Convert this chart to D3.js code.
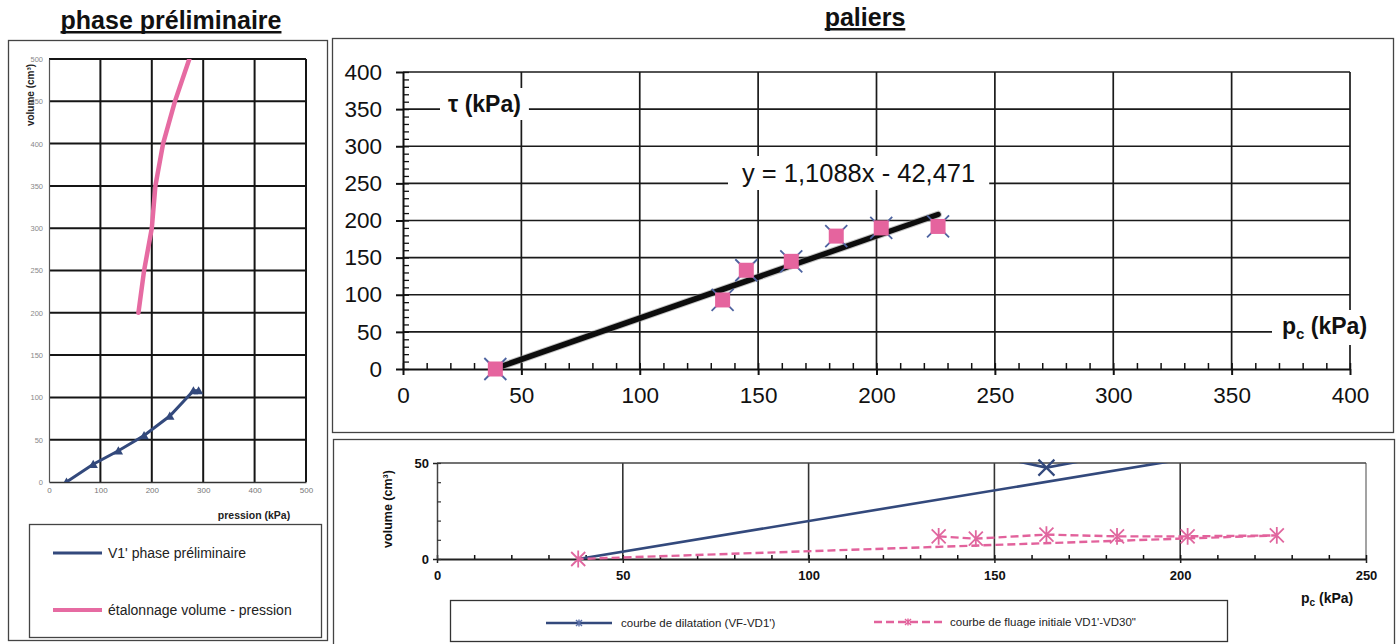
<!DOCTYPE html>
<html>
<head>
<meta charset="utf-8">
<script src="https://d3js.org/d3.v7.min.js"></script>
<style>
  body { margin: 0; background: #fff; }
  svg { display: block; font-family: "Liberation Sans", Arial, sans-serif; }
</style>
</head>
<body>
<script>
var W = 1398, H = 644;
var FONT = "Liberation Sans, Arial, sans-serif";

// phase préliminaire
var prelimP = [34, 86, 135, 185, 235, 281, 291];
var prelimV = [0, 21, 37, 55, 78, 108, 108];
var etalP = [174, 185, 200, 207, 222, 245, 273];
var etalV = [200, 250, 300, 350, 400, 450, 500];
var prelimXTicks = [0, 100, 200, 300, 400, 500];
var prelimYTicks = [0, 50, 100, 150, 200, 250, 300, 350, 400, 450, 500];

// paliers : tau en fonction de pc
var palierP = [39, 135, 145, 164, 183, 202, 226];
var palierTau = [0, 93, 133, 145, 179, 190, 192];
var trendSlope = 1.1088, trendIntercept = -42.471;
var trendRange = [38.3, 226];
var palierTicks = [0, 50, 100, 150, 200, 250, 300, 350, 400];

// dilatation / fluage (dans l'ordre des lignes de la feuille)
var courbeP = [135, 145, 164, 183, 202, 226, 38];
var dilatV = [57, 55.5, 47.6, 54.5, 58, 60, 0];
var fluageV = [11.8, 10.6, 12.7, 11.8, 11.8, 12.3, 0];
var courbeXTicks = [0, 50, 100, 150, 200, 250];
var courbeYTicks = [0, 50];

var navy = "#33497c";
var pink = "#e2629c";

var svg = d3.select("body").append("svg").attr("width", W).attr("height", H);
var defs = svg.append("defs");

function clip(id, x0, y0, x1, y1) {
  defs.append("clipPath").attr("id", id).append("rect")
    .attr("x", x0).attr("y", y0).attr("width", x1 - x0).attr("height", y1 - y0);
}

function fixFont(g, size, weight, color) {
  g.attr("font-family", FONT);
  g.selectAll("text").attr("font-size", size).attr("font-weight", weight).attr("fill", color);
}

// petit marqueur étoile / croix
function starPath(s, withBar) {
  var p = "M" + -s + "," + -s + "L" + s + "," + s + "M" + -s + "," + s + "L" + s + "," + -s;
  if (withBar) p += "M0," + -s * 1.2 + "L0," + s * 1.2;
  return p;
}

// titres
function title(x, y, txt) {
  var t = svg.append("text").attr("x", x).attr("y", y).attr("text-anchor", "middle")
    .attr("font-size", 25).attr("font-weight", "bold").attr("fill", "#111").text(txt);
  var w = t.node().getComputedTextLength();
  svg.append("rect").attr("x", x - w / 2).attr("y", y + 2).attr("width", w)
    .attr("height", 2.5).attr("fill", "#111");
}
title(171, 29, "phase préliminaire");
title(865, 26, "paliers");

// cadres
function frame(x0, y0, x1, y1) {
  svg.append("rect").attr("x", x0 + 0.5).attr("y", y0 + 0.5)
    .attr("width", x1 - x0).attr("height", y1 - y0)
    .attr("fill", "none").attr("stroke", "#444").attr("stroke-width", 1.3);
}
frame(8, 40, 327, 640);
frame(332, 38, 1393, 432);
frame(333, 439, 1394, 650);

// ---------- phase préliminaire ----------
var lx = d3.scaleLinear().domain([0, 500]).range([49, 306]);
var ly = d3.scaleLinear().domain([0, 500]).range([482, 59]);
var gL = svg.append("g");
clip("clipL", lx(0), ly(500), lx(500), ly(0));

gL.selectAll(".vg").data(prelimXTicks.slice(1)).enter().append("line")
  .attr("x1", d => lx(d)).attr("x2", d => lx(d))
  .attr("y1", ly(0)).attr("y2", ly(500))
  .attr("stroke", "#151515").attr("stroke-width", 2);
gL.selectAll(".hg").data(prelimYTicks.slice(1)).enter().append("line")
  .attr("x1", lx(0)).attr("x2", lx(500))
  .attr("y1", d => ly(d)).attr("y2", d => ly(d))
  .attr("stroke", "#151515").attr("stroke-width", 2);

var axLx = gL.append("g").attr("transform", "translate(0," + ly(0) + ")")
  .call(d3.axisBottom(lx).tickValues(prelimXTicks).tickSize(0).tickPadding(5).tickSizeOuter(0));
axLx.select(".domain").attr("stroke", "#333").attr("stroke-width", 1.5);
fixFont(axLx, 8, "normal", "#777");
var axLy = gL.append("g").attr("transform", "translate(" + lx(0) + ",0)")
  .call(d3.axisLeft(ly).tickValues(prelimYTicks).tickSize(0).tickPadding(6).tickSizeOuter(0));
axLy.select(".domain").attr("stroke", "#555").attr("stroke-width", 1.2);
fixFont(axLy, 7.5, "normal", "#888");

var lineL = d3.line().x(d => lx(d[0])).y(d => ly(d[1]));
var plotL = gL.append("g").attr("clip-path", "url(#clipL)");
plotL.append("path").datum(d3.zip(etalP, etalV)).attr("d", lineL)
  .attr("fill", "none").attr("stroke", "#e66ba2").attr("stroke-width", 4.5)
  .attr("stroke-linecap", "round");
plotL.append("path").datum(d3.zip(prelimP, prelimV)).attr("d", lineL)
  .attr("fill", "none").attr("stroke", navy).attr("stroke-width", 3);
plotL.selectAll(".tri").data(d3.zip(prelimP, prelimV)).enter().append("path")
  .attr("d", d3.symbol(d3.symbolTriangle, 38))
  .attr("transform", d => "translate(" + lx(d[0]) + "," + (ly(d[1]) + 1) + ")")
  .attr("fill", navy);

svg.append("text").attr("transform", "translate(34,95) rotate(-90)")
  .attr("text-anchor", "middle").attr("font-size", 10).attr("font-weight", "bold")
  .attr("fill", "#222").text("volume (cm³)");
svg.append("text").attr("x", 254).attr("y", 519).attr("text-anchor", "middle")
  .attr("font-size", 10.5).attr("font-weight", "bold").attr("fill", "#222").text("pression (kPa)");

// légende gauche
svg.append("rect").attr("x", 29.5).attr("y", 524.5).attr("width", 292).attr("height", 113)
  .attr("fill", "none").attr("stroke", "#444").attr("stroke-width", 1.3);
var legL = [
  { label: "V1' phase préliminaire", color: navy, w: 3, y: 553 },
  { label: "étalonnage volume - pression", color: "#e66ba2", w: 4, y: 610 }
];
legL.forEach(function(d) {
  svg.append("line").attr("x1", 53).attr("x2", 102).attr("y1", d.y).attr("y2", d.y)
    .attr("stroke", d.color).attr("stroke-width", d.w);
  svg.append("text").attr("x", 108).attr("y", d.y + 5).attr("font-size", 14)
    .attr("fill", "#222").text(d.label);
});

// ---------- paliers ----------
var px = d3.scaleLinear().domain([0, 400]).range([403, 1350]);
var py = d3.scaleLinear().domain([0, 400]).range([369, 72]);
var gP = svg.append("g");
clip("clipP", px(0), py(400), px(400), py(0));

gP.selectAll(".vg").data(palierTicks.slice(1)).enter().append("line")
  .attr("x1", d => px(d)).attr("x2", d => px(d))
  .attr("y1", py(0)).attr("y2", py(400))
  .attr("stroke", "#1a1a1a").attr("stroke-width", 1.7);
gP.selectAll(".hg").data(palierTicks.slice(1)).enter().append("line")
  .attr("x1", px(0)).attr("x2", px(400))
  .attr("y1", d => py(d)).attr("y2", d => py(d))
  .attr("stroke", "#1a1a1a").attr("stroke-width", 1.7);

var minorP = d3.range(0, 401, 10);
var axPxMinor = gP.append("g").attr("transform", "translate(0," + py(0) + ")")
  .call(d3.axisBottom(px).tickValues(minorP).tickSize(-6).tickFormat("").tickSizeOuter(0));
axPxMinor.selectAll("line").attr("stroke", "#111").attr("stroke-width", 1.5);
axPxMinor.select(".domain").attr("stroke", "#111").attr("stroke-width", 2);
var axPyMinor = gP.append("g").attr("transform", "translate(" + px(0) + ",0)")
  .call(d3.axisLeft(py).tickValues(minorP).tickSize(-6).tickFormat("").tickSizeOuter(0));
axPyMinor.selectAll("line").attr("stroke", "#111").attr("stroke-width", 1.3);
axPyMinor.select(".domain").attr("stroke", "#111").attr("stroke-width", 2);

var axPx = gP.append("g").attr("transform", "translate(0," + py(0) + ")")
  .call(d3.axisBottom(px).tickValues(palierTicks).tickSize(6).tickPadding(12).tickSizeOuter(0));
axPx.select(".domain").remove();
axPx.selectAll("line").attr("stroke", "#111").attr("stroke-width", 2);
fixFont(axPx, 22.5, "normal", "#111");
var axPy = gP.append("g").attr("transform", "translate(" + px(0) + ",0)")
  .call(d3.axisLeft(py).tickValues(palierTicks).tickSize(7).tickPadding(14).tickSizeOuter(0));
axPy.select(".domain").remove();
axPy.selectAll("line").attr("stroke", "#111").attr("stroke-width", 2);
fixFont(axPy, 22.5, "normal", "#111");

// étiquettes avec fond blanc
function boxedText(x, y, size, weight, build, padX, padY) {
  var t = gP.append("text").attr("x", x).attr("y", y).attr("font-size", size)
    .attr("font-weight", weight).attr("fill", "#111");
  build(t);
  var b = t.node().getBBox();
  gP.insert("rect", function() { return t.node(); })
    .attr("x", b.x - padX).attr("y", b.y - padY)
    .attr("width", b.width + 2 * padX).attr("height", b.height + 2 * padY)
    .attr("fill", "#fff");
}
boxedText(448, 112, 23, "bold", function(t) { t.text("τ (kPa)"); }, 8, 3);
boxedText(742, 182, 25.5, "normal", function(t) {
  t.text("y = " + String(trendSlope).replace(".", ",") + "x - " +
    String(-trendIntercept).replace(".", ","));
}, 14, 3);
boxedText(1282, 334, 23, "bold", function(t) {
  t.append("tspan").text("p");
  t.append("tspan").attr("font-size", 15).attr("dy", 5).text("c");
  t.append("tspan").attr("dy", -5).text(" (kPa)");
}, 10, 3);

var plotP = gP.append("g").attr("clip-path", "url(#clipP)");
plotP.append("line")
  .attr("x1", px(trendRange[0])).attr("y1", py(trendSlope * trendRange[0] + trendIntercept))
  .attr("x2", px(trendRange[1])).attr("y2", py(trendSlope * trendRange[1] + trendIntercept))
  .attr("stroke", "#888").attr("stroke-width", 7.5).attr("stroke-linecap", "round").attr("opacity", 0.5);

var ptsP = d3.zip(palierP, palierTau);
gP.selectAll(".xm").data(ptsP).enter().append("path")
  .attr("d", starPath(11, false))
  .attr("transform", d => "translate(" + px(d[0]) + "," + py(d[1]) + ")")
  .attr("stroke", "#4d63a0").attr("stroke-width", 1.8).attr("fill", "none");
gP.selectAll(".sq").data(ptsP).enter().append("rect")
  .attr("x", d => px(d[0]) - 7.5).attr("y", d => py(d[1]) - 7.5)
  .attr("width", 15).attr("height", 15).attr("fill", "#e5649e");

plotP.append("line")
  .attr("x1", px(trendRange[0])).attr("y1", py(trendSlope * trendRange[0] + trendIntercept))
  .attr("x2", px(trendRange[1])).attr("y2", py(trendSlope * trendRange[1] + trendIntercept))
  .attr("stroke", "#0d0d0d").attr("stroke-width", 5.5).attr("stroke-linecap", "round");

// ---------- dilatation / fluage ----------
var bx = d3.scaleLinear().domain([0, 250]).range([437, 1366]);
var by = d3.scaleLinear().domain([0, 50]).range([559, 463]);
var gB = svg.append("g");
clip("clipB", bx(0), by(50), bx(250), by(0) + 1);

gB.selectAll(".vg").data(courbeXTicks.slice(1)).enter().append("line")
  .attr("x1", d => bx(d)).attr("x2", d => bx(d))
  .attr("y1", by(0)).attr("y2", by(50))
  .attr("stroke", d => d === 250 ? "#666" : "#333").attr("stroke-width", d => d === 250 ? 1.2 : 1.6);
gB.append("line").attr("x1", bx(0)).attr("x2", bx(250)).attr("y1", by(50)).attr("y2", by(50))
  .attr("stroke", "#444").attr("stroke-width", 1.6);

var minorB = d3.range(0, 251, 10);
var axBxMinor = gB.append("g").attr("transform", "translate(0," + by(0) + ")")
  .call(d3.axisBottom(bx).tickValues(minorB).tickSize(-4).tickFormat("").tickSizeOuter(0));
axBxMinor.selectAll("line").attr("stroke", "#111").attr("stroke-width", 1.5);
axBxMinor.select(".domain").attr("stroke", "#222").attr("stroke-width", 1.8);
var axByMinor = gB.append("g").attr("transform", "translate(" + bx(0) + ",0)")
  .call(d3.axisLeft(by).tickValues(d3.range(0, 51, 10)).tickSize(-4).tickFormat("").tickSizeOuter(0));
axByMinor.selectAll("line").attr("stroke", "#333").attr("stroke-width", 1.2);
axByMinor.select(".domain").attr("stroke", "#444").attr("stroke-width", 1.5);

var axBx = gB.append("g").attr("transform", "translate(0," + by(0) + ")")
  .call(d3.axisBottom(bx).tickValues(courbeXTicks).tickSize(4).tickPadding(8).tickSizeOuter(0));
axBx.select(".domain").remove();
axBx.selectAll("line").attr("stroke", "#222").attr("stroke-width", 1.5);
fixFont(axBx, 13, "bold", "#111");
var axBy = gB.append("g").attr("transform", "translate(" + bx(0) + ",0)")
  .call(d3.axisLeft(by).tickValues(courbeYTicks).tickSize(4).tickPadding(4).tickSizeOuter(0));
axBy.select(".domain").remove();
axBy.selectAll("line").attr("stroke", "#222").attr("stroke-width", 1.5);
fixFont(axBy, 13, "bold", "#111");

svg.append("text").attr("transform", "translate(392,509) rotate(-90)")
  .attr("text-anchor", "middle").attr("font-size", 12.5).attr("font-weight", "bold")
  .attr("fill", "#111").text("volume (cm³)");
svg.append("text").attr("x", 1301).attr("y", 603).attr("font-size", 14)
  .attr("font-weight", "bold").attr("fill", "#111")
  .call(function(t) {
    t.append("tspan").text("p");
    t.append("tspan").attr("font-size", 10).attr("dy", 3).text("c");
    t.append("tspan").attr("dy", -3).text(" (kPa)");
  });

var lineB = d3.line().x(d => bx(d[0])).y(d => by(d[1]));
var plotB = gB.append("g").attr("clip-path", "url(#clipB)");
var ptsDil = d3.zip(courbeP, dilatV);
var ptsFlu = d3.zip(courbeP, fluageV);
plotB.append("path").datum(ptsDil).attr("d", lineB)
  .attr("fill", "none").attr("stroke", navy).attr("stroke-width", 2.6);
plotB.append("path").datum(ptsFlu).attr("d", lineB)
  .attr("fill", "none").attr("stroke", pink).attr("stroke-width", 2.4)
  .attr("stroke-dasharray", "8,4");

gB.selectAll(".bm").data(ptsDil.filter(d => d[1] <= 50 && d[1] > 0)).enter().append("path")
  .attr("d", starPath(8, false))
  .attr("transform", d => "translate(" + bx(d[0]) + "," + by(d[1]) + ")")
  .attr("stroke", navy).attr("stroke-width", 2.2).attr("fill", "none");
gB.selectAll(".pm").data(ptsFlu.filter(d => d[1] <= 50)).enter().append("path")
  .attr("d", starPath(7, true))
  .attr("transform", d => "translate(" + bx(d[0]) + "," + by(d[1]) + ")")
  .attr("stroke", "#e0679f").attr("stroke-width", 1.8).attr("fill", "none");

// légende bas
svg.append("rect").attr("x", 450.5).attr("y", 600.5).attr("width", 777).attr("height", 41)
  .attr("fill", "none").attr("stroke", "#333").attr("stroke-width", 1.3);
svg.append("line").attr("x1", 546).attr("x2", 612).attr("y1", 623).attr("y2", 623)
  .attr("stroke", navy).attr("stroke-width", 2.6);
svg.append("path").attr("d", starPath(3, true)).attr("transform", "translate(579,623)")
  .attr("stroke", "#5a6fa8").attr("stroke-width", 1.4).attr("fill", "none");
svg.append("text").attr("x", 621).attr("y", 627).attr("font-size", 11.5).attr("fill", "#222")
  .text("courbe de dilatation (VF-VD1')");
svg.append("line").attr("x1", 874).attr("x2", 942).attr("y1", 622).attr("y2", 622)
  .attr("stroke", pink).attr("stroke-width", 2.4).attr("stroke-dasharray", "8,4");
svg.append("path").attr("d", starPath(3, true)).attr("transform", "translate(908,622)")
  .attr("stroke", pink).attr("stroke-width", 1.4).attr("fill", "none");
svg.append("text").attr("x", 950).attr("y", 626).attr("font-size", 11.5).attr("fill", "#222")
  .text("courbe de fluage initiale VD1'-VD30\"");
</script>
</body>
</html>
